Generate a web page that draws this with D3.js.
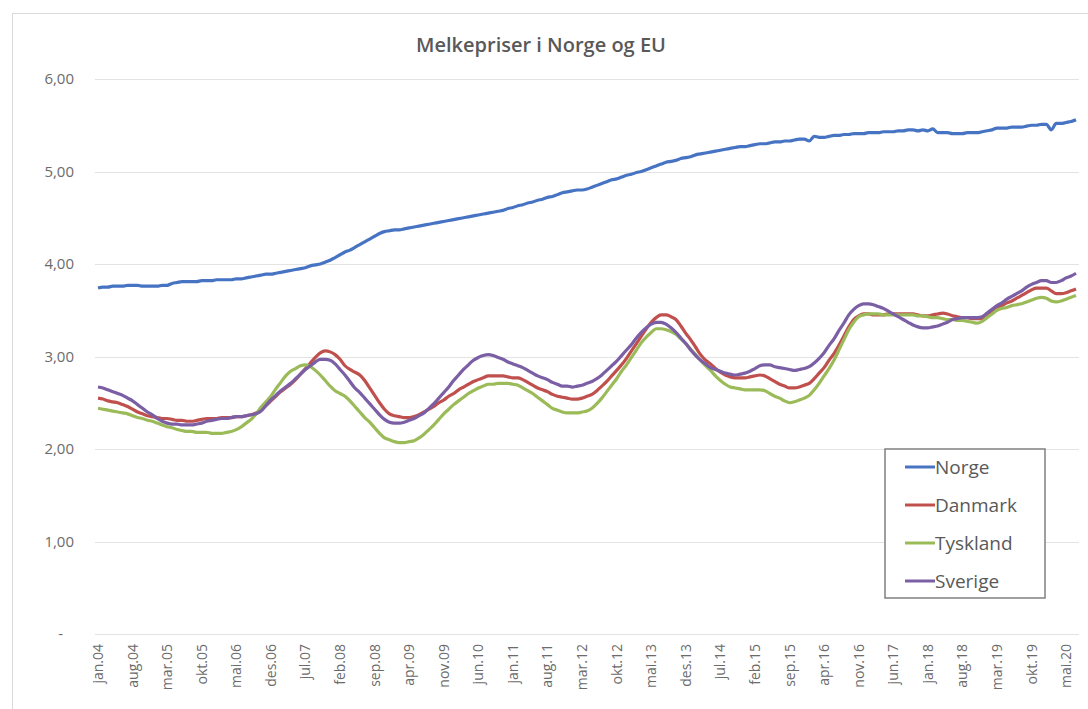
<!DOCTYPE html>
<html>
<head>
<meta charset="utf-8">
<script src="https://cdn.jsdelivr.net/npm/d3@7"></script>
<style>
  body { margin: 0; background: #fff; }
  text { font-family: "Open Sans", "Noto Sans", sans-serif; }
</style>
</head>
<body>
<div id="chart"></div>
<script>
const width = 1088;
const height = 709;

// Month names used for category labels (monthly data, jan.04 - jul.20)
const monthNames = ["jan", "feb", "mar", "apr", "mai", "jun", "jul", "aug", "sep", "okt", "nov", "des"];
const startYear = 2004;
const nMonths = 199;
const yTicks = [0, 1, 2, 3, 4, 5, 6];
const seriesNames = ["Norge", "Danmark", "Tyskland", "Sverige"];
const seriesColors = ["#4673c2", "#c0504d", "#9bbb59", "#7b5fa5"];

const norge = [
  3.74,3.75,3.75,3.76,3.76,3.76,3.77,3.77,3.77,3.76,3.76,3.76,
  3.76,3.77,3.77,3.79,3.80,3.81,3.81,3.81,3.81,3.82,3.82,3.82,
  3.83,3.83,3.83,3.83,3.84,3.84,3.85,3.86,3.87,3.88,3.89,3.89,
  3.90,3.91,3.92,3.93,3.94,3.95,3.96,3.98,3.99,4.00,4.02,4.04,
  4.07,4.10,4.13,4.15,4.18,4.21,4.24,4.27,4.30,4.33,4.35,4.36,
  4.37,4.37,4.38,4.39,4.40,4.41,4.42,4.43,4.44,4.45,4.46,4.47,
  4.48,4.49,4.50,4.51,4.52,4.53,4.54,4.55,4.56,4.57,4.58,4.60,
  4.61,4.63,4.64,4.66,4.67,4.69,4.70,4.72,4.73,4.75,4.77,4.78,
  4.79,4.80,4.80,4.81,4.83,4.85,4.87,4.89,4.91,4.92,4.94,4.96,
  4.97,4.99,5.00,5.02,5.04,5.06,5.08,5.10,5.11,5.12,5.14,5.15,
  5.16,5.18,5.19,5.20,5.21,5.22,5.23,5.24,5.25,5.26,5.27,5.27,
  5.28,5.29,5.30,5.30,5.31,5.32,5.32,5.33,5.33,5.34,5.35,5.35,
  5.33,5.38,5.37,5.37,5.38,5.39,5.39,5.40,5.40,5.41,5.41,5.41,
  5.42,5.42,5.42,5.43,5.43,5.43,5.44,5.44,5.45,5.45,5.44,5.45,
  5.44,5.46,5.42,5.42,5.42,5.41,5.41,5.41,5.42,5.42,5.42,5.43,
  5.44,5.45,5.47,5.47,5.47,5.48,5.48,5.48,5.49,5.50,5.50,5.51,
  5.51,5.45,5.52,5.52,5.53,5.54,5.56
];

const danmark = [
  2.55,2.54,2.52,2.51,2.50,2.48,2.46,2.43,2.40,2.38,2.36,2.35,
  2.34,2.33,2.33,2.32,2.31,2.31,2.30,2.30,2.31,2.32,2.33,2.33,
  2.33,2.34,2.34,2.34,2.35,2.35,2.36,2.37,2.39,2.42,2.47,2.52,
  2.57,2.62,2.66,2.70,2.75,2.81,2.87,2.93,2.99,3.04,3.06,3.05,
  3.02,2.97,2.90,2.86,2.83,2.80,2.74,2.66,2.58,2.50,2.43,2.38,
  2.36,2.35,2.34,2.34,2.35,2.37,2.40,2.43,2.46,2.50,2.53,2.57,
  2.60,2.64,2.67,2.70,2.73,2.75,2.77,2.79,2.79,2.79,2.79,2.78,
  2.77,2.77,2.75,2.72,2.69,2.66,2.64,2.62,2.59,2.57,2.56,2.55,
  2.54,2.54,2.55,2.57,2.59,2.63,2.68,2.73,2.79,2.85,2.91,2.98,
  3.06,3.14,3.22,3.30,3.37,3.42,3.45,3.45,3.43,3.40,3.33,3.25,
  3.18,3.10,3.02,2.96,2.92,2.87,2.83,2.80,2.78,2.77,2.77,2.77,
  2.78,2.79,2.80,2.79,2.76,2.73,2.70,2.68,2.66,2.66,2.67,2.69,
  2.71,2.76,2.82,2.88,2.96,3.03,3.12,3.22,3.32,3.40,3.44,3.46,
  3.46,3.45,3.45,3.45,3.46,3.46,3.46,3.46,3.46,3.46,3.45,3.44,
  3.44,3.45,3.46,3.47,3.46,3.44,3.43,3.42,3.42,3.41,3.41,3.41,
  3.44,3.48,3.52,3.55,3.58,3.60,3.63,3.66,3.69,3.72,3.74,3.74,
  3.74,3.71,3.68,3.68,3.69,3.71,3.73
];

const tyskland = [
  2.44,2.43,2.42,2.41,2.40,2.39,2.38,2.36,2.34,2.33,2.31,2.30,
  2.28,2.26,2.24,2.23,2.21,2.20,2.19,2.19,2.18,2.18,2.18,2.17,
  2.17,2.17,2.18,2.19,2.21,2.24,2.28,2.32,2.38,2.45,2.51,2.57,
  2.65,2.72,2.79,2.84,2.87,2.90,2.91,2.89,2.85,2.80,2.74,2.68,
  2.63,2.60,2.57,2.52,2.46,2.40,2.34,2.29,2.23,2.17,2.12,2.10,
  2.08,2.07,2.07,2.08,2.09,2.12,2.16,2.21,2.26,2.32,2.38,2.43,
  2.48,2.52,2.56,2.60,2.63,2.66,2.68,2.70,2.70,2.71,2.71,2.71,
  2.70,2.69,2.66,2.63,2.60,2.56,2.52,2.48,2.44,2.42,2.40,2.39,
  2.39,2.39,2.40,2.41,2.44,2.49,2.55,2.62,2.69,2.76,2.84,2.91,
  2.99,3.07,3.15,3.21,3.26,3.30,3.30,3.29,3.27,3.24,3.19,3.14,
  3.08,3.02,2.96,2.90,2.85,2.79,2.74,2.70,2.67,2.66,2.65,2.64,
  2.64,2.64,2.64,2.63,2.60,2.57,2.55,2.52,2.50,2.51,2.53,2.55,
  2.58,2.64,2.71,2.79,2.87,2.96,3.07,3.18,3.29,3.37,3.43,3.45,
  3.46,3.46,3.46,3.45,3.45,3.45,3.45,3.45,3.45,3.45,3.44,3.44,
  3.43,3.42,3.42,3.41,3.40,3.40,3.39,3.39,3.38,3.37,3.36,3.38,
  3.42,3.46,3.50,3.52,3.53,3.55,3.56,3.57,3.59,3.61,3.63,3.64,
  3.63,3.60,3.59,3.60,3.62,3.64,3.66
];

const sverige = [
  2.67,2.66,2.64,2.62,2.60,2.58,2.55,2.52,2.48,2.44,2.40,2.37,
  2.33,2.30,2.28,2.27,2.27,2.26,2.26,2.26,2.27,2.28,2.30,2.31,
  2.32,2.33,2.33,2.34,2.35,2.35,2.36,2.37,2.38,2.41,2.47,2.53,
  2.58,2.63,2.67,2.71,2.76,2.81,2.86,2.90,2.94,2.97,2.97,2.96,
  2.92,2.86,2.80,2.73,2.66,2.61,2.55,2.49,2.43,2.37,2.32,2.29,
  2.28,2.28,2.29,2.31,2.33,2.36,2.39,2.44,2.49,2.55,2.61,2.67,
  2.74,2.80,2.86,2.91,2.96,2.99,3.01,3.02,3.01,2.99,2.97,2.94,
  2.92,2.90,2.88,2.85,2.82,2.79,2.77,2.75,2.72,2.70,2.68,2.68,
  2.67,2.68,2.69,2.71,2.73,2.76,2.80,2.85,2.90,2.95,3.01,3.07,
  3.13,3.20,3.26,3.31,3.35,3.37,3.37,3.35,3.31,3.26,3.20,3.14,
  3.07,3.01,2.96,2.92,2.88,2.86,2.84,2.82,2.81,2.80,2.81,2.82,
  2.84,2.87,2.90,2.91,2.91,2.89,2.88,2.87,2.86,2.85,2.86,2.87,
  2.89,2.93,2.98,3.04,3.12,3.19,3.28,3.36,3.45,3.51,3.55,3.57,
  3.57,3.56,3.54,3.52,3.49,3.46,3.43,3.40,3.37,3.34,3.32,3.31,
  3.31,3.32,3.33,3.35,3.37,3.40,3.41,3.42,3.42,3.42,3.42,3.43,
  3.47,3.51,3.55,3.58,3.62,3.65,3.68,3.71,3.75,3.78,3.80,3.82,
  3.82,3.80,3.80,3.82,3.85,3.87,3.90
];

const seriesValues = [norge, danmark, tyskland, sverige];

// category labels like "jan.04"
const categories = d3.range(nMonths).map((i) => {
  const y = (startYear + Math.floor(i / 12)) % 100;
  return monthNames[i % 12] + "." + String(y).padStart(2, "0");
});

const svg = d3
  .select("#chart")
  .append("svg")
  .attr("width", width)
  .attr("height", height);

// chart area border
svg
  .append("rect")
  .attr("x", 12.5)
  .attr("y", 13.5)
  .attr("width", 1100)
  .attr("height", 720)
  .attr("fill", "#fff")
  .attr("stroke", "#d9d9d9");

const x = d3.scalePoint().domain(d3.range(nMonths)).range([98, 1076]);
const y = d3.scaleLinear().domain([0, 6]).range([634, 79]);

// gridlines
svg
  .append("g")
  .selectAll("line")
  .data(yTicks)
  .enter()
  .append("line")
  .attr("x1", 95)
  .attr("x2", 1079)
  .attr("y1", (d) => Math.round(y(d)) + 0.5)
  .attr("y2", (d) => Math.round(y(d)) + 0.5)
  .attr("stroke", "#e3e3e3")
  .attr("stroke-width", 1.2);

// y labels (Excel accounting style: zero shown as "-")
const fmt = (d) => (d === 0 ? "-" : d3.format(".2f")(d).replace(".", ","));
svg
  .append("g")
  .selectAll("text")
  .data(yTicks)
  .enter()
  .append("text")
  .attr("x", (d) => (d === 0 ? 63 : 74))
  .attr("y", (d) => y(d) + 5)
  .attr("text-anchor", "end")
  .style("font-size", "15px")
  .style("fill", "#6b6b6b")
  .text(fmt);

// x labels every 7 months, rotated
const xTickIdx = d3.range(0, nMonths, 7);
svg
  .append("g")
  .selectAll("text")
  .data(xTickIdx)
  .enter()
  .append("text")
  .attr("transform", (d) => `translate(${x(d) + 5},644) rotate(-90)`)
  .attr("text-anchor", "end")
  .style("font-size", "14px")
  .style("fill", "#6b6b6b")
  .text((d) => categories[d]);

// lines
const line = d3
  .line()
  .x((d, i) => x(i))
  .y((d) => y(d))
  .curve(d3.curveMonotoneX);

svg
  .append("g")
  .selectAll("path")
  .data(seriesValues)
  .enter()
  .append("path")
  .attr("d", line)
  .attr("fill", "none")
  .attr("stroke", (d, i) => seriesColors[i])
  .attr("stroke-width", 3.2)
  .attr("stroke-linejoin", "round");

// title
svg
  .append("text")
  .attr("x", 541)
  .attr("y", 52)
  .attr("text-anchor", "middle")
  .style("font-size", "20px")
  .style("font-weight", "600")
  .style("fill", "#595959")
  .text("Melkepriser i Norge og EU");

// legend
const legend = svg.append("g").attr("transform", "translate(885,449)");
legend
  .append("rect")
  .attr("width", 160)
  .attr("height", 149)
  .attr("fill", "#fff")
  .attr("stroke", "#808080")
  .attr("stroke-width", 1.5);

const item = legend
  .selectAll("g")
  .data(seriesNames)
  .enter()
  .append("g")
  .attr("transform", (d, i) => `translate(0,${18 + i * 38})`);

item
  .append("line")
  .attr("x1", 20)
  .attr("x2", 50)
  .attr("stroke", (d, i) => seriesColors[i])
  .attr("stroke-width", 3);

item
  .append("text")
  .attr("x", 50)
  .attr("y", 7)
  .style("font-size", "19px")
  .style("fill", "#595959")
  .text((d) => d);
</script>
</body>
</html>
